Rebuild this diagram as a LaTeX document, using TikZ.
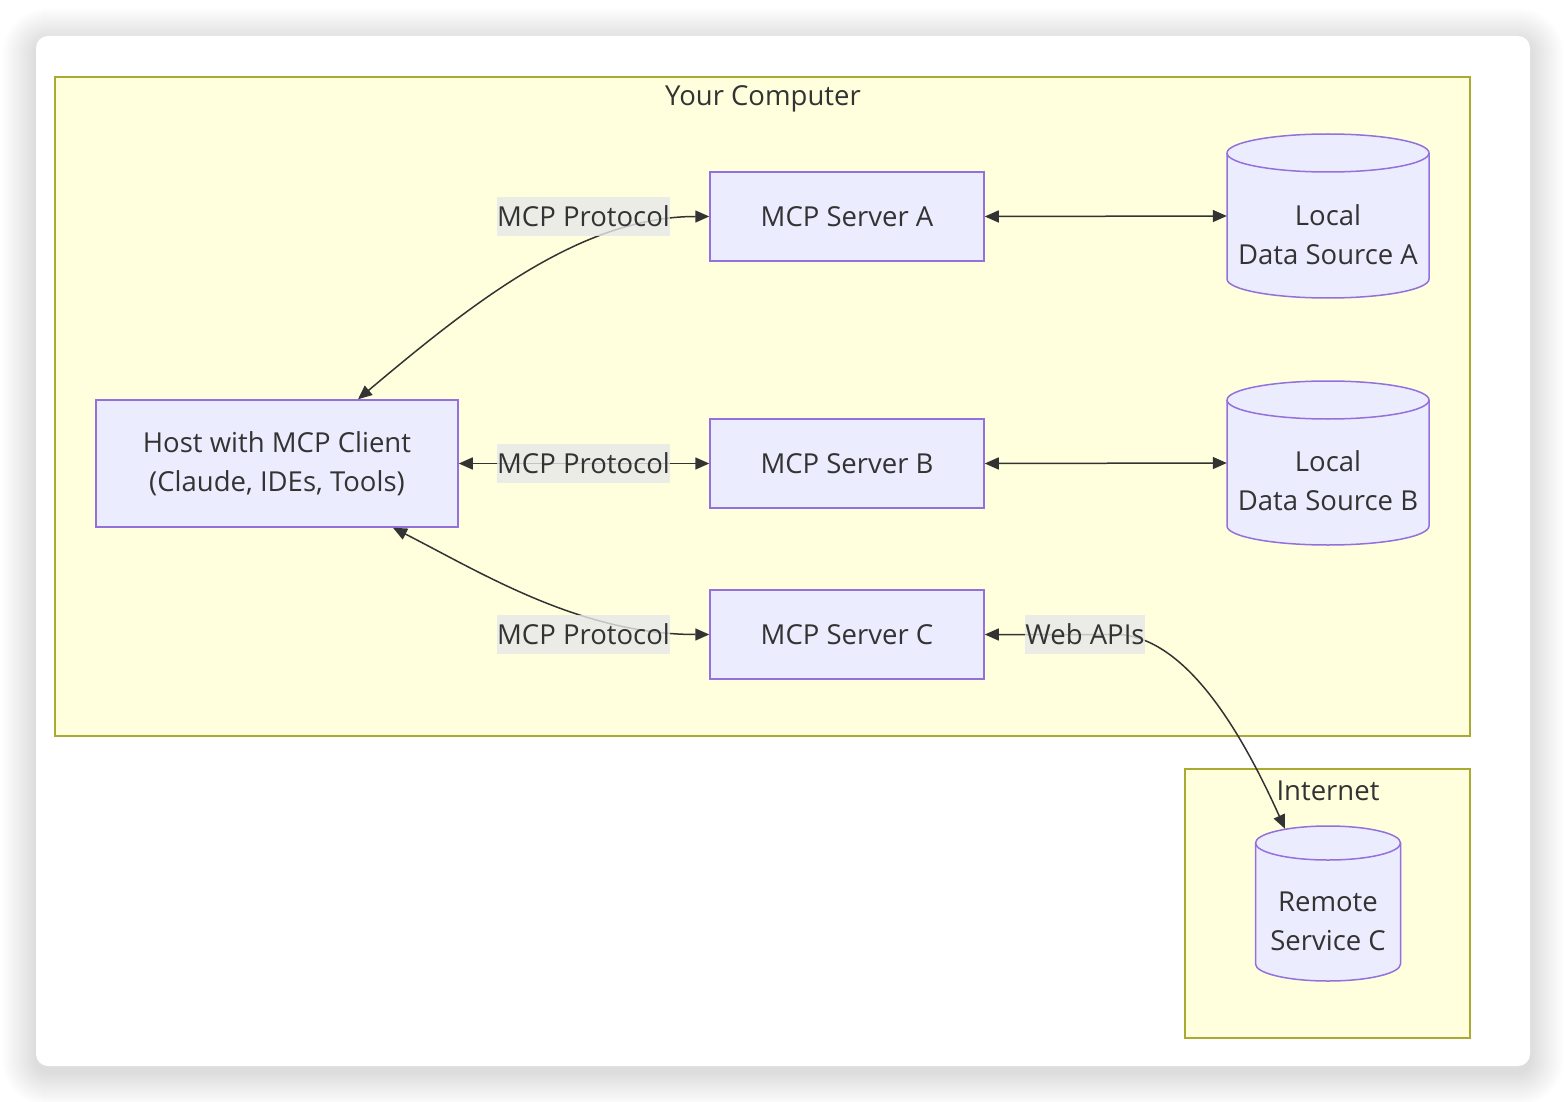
\documentclass[tikz,border=0pt]{standalone}
\usepackage{fontspec}
\setmainfont{Open Sans}
\usetikzlibrary{calc}
\usetikzlibrary{arrows.meta}
\definecolor{grpfill}{HTML}{FFFFDE}
\definecolor{grpline}{HTML}{AAAA33}
\definecolor{boxfill}{HTML}{ECECFF}
\definecolor{boxline}{HTML}{9370DB}
\definecolor{lblfill}{HTML}{E8E8E8}
\definecolor{ink}{HTML}{333333}
\newcommand{\txtsize}{\fontsize{27.5}{39}\selectfont}
% cylinder outline: centre x, centre y, x radius, half height, y radius
\newcommand{\datadrum}[5]{%
	\filldraw[drum] (#1-#3,#2-#4+#5) -- (#1-#3,#2+#4-#5)
	arc[start angle=180,end angle=360,x radius=#3pt,y radius=#5pt] -- (#1+#3,#2-#4+#5)
	arc[start angle=0,end angle=180,x radius=#3pt,y radius=#5pt] -- cycle;
	\draw[drum] (#1-#3,#2-#4+#5) arc[start angle=180,end angle=360,x radius=#3pt,y radius=#5pt];
}
\tikzset{
	box/.style={draw=boxline, fill=boxfill, line width=1.5pt, text=ink, font=\txtsize,
			align=center, inner sep=0pt},
	drum/.style={draw=boxline, fill=boxfill, line width=1.5pt},
	grp/.style={draw=grpline, fill=grpfill, line width=1.5pt},
	plain/.style={text=ink, font=\txtsize, align=center, inner sep=0pt},
	lbl/.style={fill=lblfill, fill opacity=0.8, text opacity=1, text=ink, font=\txtsize,
			inner xsep=0pt, inner ysep=0pt, minimum height=39pt},
	link/.style={draw=ink, line width=1.5pt,
			{Triangle[length=14pt,width=12pt]}-{Triangle[length=14pt,width=12pt]}}
}

\begin{document}
\begin{tikzpicture}[x=1pt,y=-1pt]
	\fill[white] (0,0) rectangle (1566,1102);
	\useasboundingbox (0,0) rectangle (1566,1102);
	% soft card shadow
	\foreach \i in {1,...,34}
	\fill[black, opacity=0.0045, rounded corners=12pt+\i pt]
	(36-\i,36-\i+6) rectangle (1530+\i,1066+\i+6);
	\fill[white, rounded corners=12pt] (36,36) rectangle (1530,1066);

	% groups
	\draw[grp] (55,77) rectangle (1470,736);
	\node[plain] (pc) at (763,99) {Your Computer};
	\draw[grp] (1185,769) rectangle (1470,1038);
	\node[plain] (net) at (1328,791) {Internet};

	% data stores
	\datadrum{1328}{216}{101}{82}{19}
	\datadrum{1328}{463}{101}{82}{19}
	\datadrum{1328}{903.5}{72.5}{77.5}{17}
	\node[minimum width=202pt, minimum height=164pt] (dsA) at (1328,216) {};
	\node[minimum width=202pt, minimum height=164pt] (dsB) at (1328,463) {};
	\node[minimum width=145pt, minimum height=155pt] (rsC) at (1328,903.5) {};
	\node[plain] (dsAtxt) at (1328,234.5) {Local\\Data Source A};
	\node[plain] (dsBtxt) at (1328,481) {Local\\Data Source B};
	\node[plain] (rsCtxt) at (1328,921.5) {Remote\\Service C};

	% hosts and servers
	\node[box, minimum width=362pt, minimum height=127pt] (host) at (277,463.5)
	{Host with MCP Client\\(Claude, IDEs, Tools)};
	\node[box, minimum width=274pt, minimum height=89pt] (srvA) at (847,216.5) {MCP Server A};
	\node[box, minimum width=274pt, minimum height=89pt] (srvB) at (847,463.5) {MCP Server B};
	\node[box, minimum width=274pt, minimum height=89pt] (srvC) at (847,634.5) {MCP Server C};

	% connectors
	\draw[link] ($(host.north)+(81,0)$) .. controls (470,305) and (580,216.5) .. (srvA.west);
	\draw[link] (host.east) -- (srvB.west);
	\draw[link] ($(host.south)+(116,0)$) .. controls (480,572) and (580,634.5) .. (srvC.west);
	\draw[link] (srvA.east) -- (dsA.west);
	\draw[link] (srvB.east) -- (dsB.west);
	\draw[link] (srvC.east) -- (1120,634.5) .. controls (1190,640) and (1245,740)
	.. ($(rsC.north)+(-43,3)$);

	% edge labels
	\node[lbl] (protA) at (583.5,216.5) {MCP Protocol};
	\node[lbl] (protB) at (583.5,463.5) {MCP Protocol};
	\node[lbl] (protC) at (583.5,634.5) {MCP Protocol};
	\node[lbl] (web) at (1085,634.5) {Web APIs};
\end{tikzpicture}
\end{document}
